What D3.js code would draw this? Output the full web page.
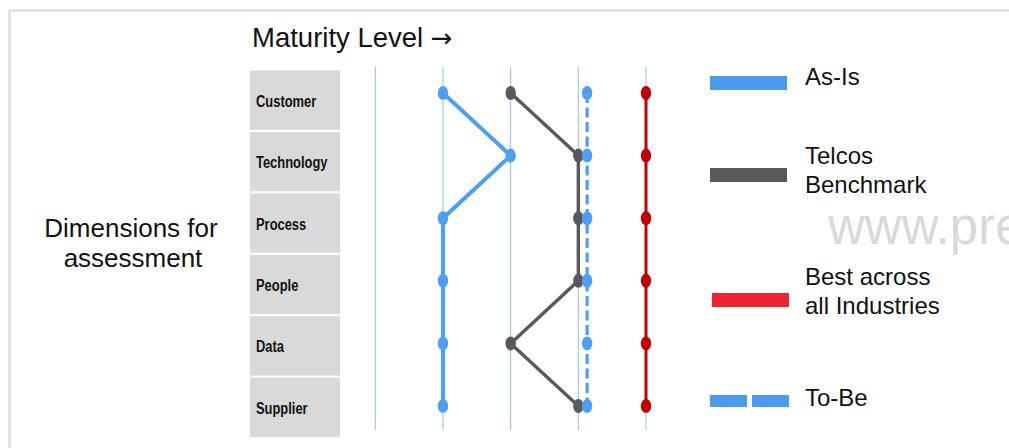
<!DOCTYPE html>
<html><head><meta charset="utf-8">
<script src="https://cdn.jsdelivr.net/npm/d3@7"></script>
<style>
html,body{margin:0;padding:0;background:#fff;overflow:hidden;}
svg{display:block;font-family:"Liberation Sans",Arial,sans-serif;}
</style></head>
<body>
<svg id="chart" width="1009" height="448"></svg>
<script>
const categories = ["Customer","Technology","Process","People","Data","Supplier"];
const levels = [0,1,2,3,4];
const asIs = [1,2,1,1,1,1];
const telcos = [2,3,3,3,2,3];
const toBe = [3.13,3.13,3.13,3.13,3.13,3.13];
const best = [4,4,4,4,4,4];
const legendItems = [
  {key:"As-Is", lines:["As-Is"]},
  {key:"Telcos", lines:["Telcos","Benchmark"]},
  {key:"Best", lines:["Best across","all Industries"]},
  {key:"To-Be", lines:["To-Be"]}
];

const svg = d3.select("#chart");

// frame
svg.append("line").attr("x1",9.5).attr("x2",1009).attr("y1",10.5).attr("y2",10.5).attr("stroke","#dedede").attr("stroke-width",2.5);
svg.append("line").attr("x1",9.5).attr("x2",9.5).attr("y1",10).attr("y2",448).attr("stroke","#dedede").attr("stroke-width",2.5);

// watermark
svg.append("text").attr("transform","translate(828,244) scale(1,1.04)").attr("font-size",51).attr("fill","#d9d9d9")
  .text("www.presentation");

const x = d3.scaleLinear().domain([0,4]).range([375.3,646]);
const yBand = d3.scaleBand().domain(categories).range([70.5,437]).paddingInner(0.033);
const y = d3.scalePoint().domain(categories).range([93,406]);

// title
const title = svg.append("text").attr("x",252).attr("y",47).attr("font-size",27.5).attr("fill","#111");
title.append("tspan").text("Maturity Level ");
title.append("tspan").attr("font-family","'DejaVu Sans',sans-serif").attr("font-size",26).text("\u2192");

// left label
const lbl = svg.append("text").attr("font-size",26).attr("fill","#111").attr("text-anchor","middle");
lbl.append("tspan").attr("x",131).attr("y",237).text("Dimensions for");
lbl.append("tspan").attr("x",133).attr("y",267).text("assessment");

// category boxes
const boxes = svg.append("g");
boxes.selectAll("rect").data(categories).join("rect")
  .attr("x",250).attr("width",90).attr("y",d=>yBand(d)).attr("height",yBand.bandwidth()).attr("fill","#d9d9d9");
boxes.selectAll("text").data(categories).join("text")
  .attr("transform",d=>`translate(256,${yBand(d)+yBand.bandwidth()/2+6.5}) scale(0.76,1)`)
  .attr("font-size",17).attr("font-weight","bold").attr("fill","#111").text(d=>d);

// grid lines
svg.append("g").selectAll("line").data(levels).join("line")
  .attr("x1",d=>x(d)).attr("x2",d=>x(d)).attr("y1",67).attr("y2",430)
  .attr("stroke","#8cbcf0").attr("stroke-width",1);

const line = d3.line().x(d=>x(d.v)).y(d=>y(d.c));
function series(vals, color, width, dash){
  const pts = vals.map((v,i)=>({v, c:categories[i]}));
  const g = svg.append("g");
  g.append("path").datum(pts).attr("d",line).attr("fill","none").attr("stroke",color)
    .attr("stroke-width",width).attr("stroke-dasharray",dash||null);
  g.selectAll("ellipse").data(pts).join("ellipse")
    .attr("cx",d=>x(d.v)).attr("cy",d=>y(d.c)).attr("rx",5.2).attr("ry",7).attr("fill",color);
}
series(asIs,"#4d9ff5",4);
series(telcos,"#595959",3.4);
series(toBe,"#4d9ff5",3.2,"10,4.5");
series(best,"#c00000",3);

// legend
const legColors = {"As-Is":"#4a9bf0","Telcos":"#595959","Best":"#ed2330","To-Be":"#4a9bf0"};
const legY = {"As-Is":83,"Telcos":175,"Best":300,"To-Be":401};
const legBase = {"As-Is":[85],"Telcos":[164.3,192.7],"Best":[285.3,314],"To-Be":[406]};
legendItems.forEach(it=>{
  const cy = legY[it.key];
  if(it.key==="To-Be"){
    svg.append("rect").attr("x",710).attr("y",cy-6).attr("width",37).attr("height",12).attr("fill",legColors[it.key]);
    svg.append("rect").attr("x",752).attr("y",cy-6).attr("width",37).attr("height",12).attr("fill",legColors[it.key]);
  } else {
    const x0 = it.key==="Best"?712:710;
    svg.append("rect").attr("x",x0).attr("y",cy-7).attr("width",77).attr("height",14).attr("fill",legColors[it.key]);
  }
  const t = svg.append("text").attr("font-size",24).attr("fill","#111");
  it.lines.forEach((s,i)=>{
    t.append("tspan").attr("x",805).attr("y",legBase[it.key][i]).text(s);
  });
});
</script>
</body></html>
